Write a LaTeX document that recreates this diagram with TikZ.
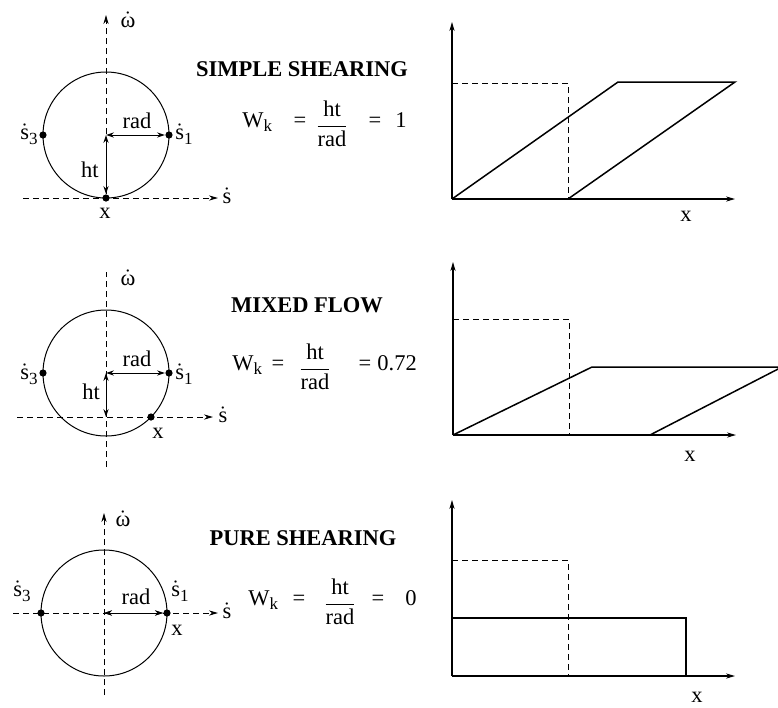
\documentclass[tikz,border=0pt]{standalone}
\usepackage{fontspec}
\setmainfont{Liberation Serif}
\usetikzlibrary{arrows.meta}
\newcommand\lowsub[1]{\raisebox{-0.45ex}{\fontsize{8.5}{9}\selectfont #1}}
\newcommand\rate[1]{$\dot{\mbox{#1}}$}
\begin{document}
\begin{tikzpicture}[x=0.5pt,y=-0.5pt,
  every node/.style={font=\fontsize{11.25}{13}\selectfont,inner sep=0pt},
  ttl/.style={font=\fontsize{11.25}{13}\selectfont\bfseries,anchor=base},
  axis/.style={dash pattern=on 3pt off 2pt,line width=0.45pt},
  tip/.style={-{Stealth[length=4.5pt,width=2.6pt]}},
  both/.style={{Stealth[length=4pt,width=2.6pt]}-{Stealth[length=4pt,width=2.6pt]},line width=0.5pt},
  pt/.style={circle,fill,minimum size=3.6pt},
  mohr/.style={line width=0.5pt},
  plot/.style={line width=0.75pt}]
\useasboundingbox (0,0) rectangle (778,708);

% Mohr circles
\foreach \n/\cx/\cy in {1/106/135, 2/106/373, 3/104/613} {
  \coordinate (c\n) at (\cx,\cy);
  \draw[mohr] (c\n) circle[radius=63];
  \node[pt] (sa\n) at (\cx-63,\cy) {};
  \node[pt] (sb\n) at (\cx+63,\cy) {};
}
\draw[both] (c1) -- (sb1);
\draw[both] (c2) -- (sb2);
\draw[both] (c3) -- (sb3);
\node (rad1) at (137,121) {rad};
\node (rad2) at (137,359) {rad};
\node (rad3) at (136,597) {rad};

% simple shearing: circle
\node[pt] (xa1) at (106,198) {};
\coordinate (wt1) at (106,15);
\coordinate (sl1) at (23,198);
\coordinate (sr1) at (218,198);
\draw[axis,tip] (xa1) -- (wt1);
\draw[axis,tip] (sl1) -- (sr1);
\draw[both] (c1) -- (xa1);
\node (ht1) at (90,170) {ht};
\node (w1) at (128,20) {\rate{ω}};
\node (s1) at (227,196) {\rate{s}};
\node (x1) at (105,213) {x};
\node (sl1a) at (184,134) {\rate{s}\lowsub{1}};
\node (sl3a) at (29,134) {\rate{s}\lowsub{3}};

% mixed flow: circle
\node[pt] (xa2) at (151,417) {};
\coordinate (xb2) at (106,417);
\coordinate (wb2) at (106,467);
\coordinate (wt2) at (106,272);
\coordinate (sl2) at (17,417);
\coordinate (sr2) at (213,417);
\draw[axis] (wb2) -- (wt2);
\draw[axis,tip] (sl2) -- (sr2);
\draw[both] (c2) -- (xb2);
\node (ht2) at (91,392) {ht};
\node (w2) at (128,278) {\rate{ω}};
\node (s2) at (223,415) {\rate{s}};
\node (x2) at (158,433) {x};
\node (sl1b) at (184,374) {\rate{s}\lowsub{1}};
\node (sl3b) at (29,374) {\rate{s}\lowsub{3}};

% pure shearing: circle
\coordinate (wb3) at (104,695);
\coordinate (wt3) at (104,513);
\coordinate (sl3) at (13,613);
\coordinate (sr3) at (218,613);
\draw[axis,tip] (wb3) -- (wt3);
\draw[axis,tip] (sl3) -- (sr3);
\draw[both] (c3) -- (sb3);
\node (w3) at (123,519) {\rate{ω}};
\node (s3) at (227,611) {\rate{s}};
\node (x3) at (177,630) {x};
\node (sl1c) at (180,591) {\rate{s}\lowsub{1}};
\node (sl3c) at (22,591) {\rate{s}\lowsub{3}};

% titles and kinematic vorticity numbers
\foreach \n/\tx/\tb/\title/\wx/\by/\ex/\fx/\gx/\vx/\val in {
    1/302/76/SIMPLE SHEARING/242/127/300/332/375/395/1,
    2/307/312/MIXED FLOW/232/370/278/315/365/377/0.72,
    3/303/545/PURE SHEARING/248/605/299/340/378/405/0} {
  \node[ttl] (ttl\n) at (\tx,\tb) {\title};
  \node[anchor=base west] (wk\n) at (\wx,\by) {W\lowsub{k}};
  \node[anchor=base] (eqa\n) at (\ex,\by) {=};
  \node (frac\n) at (\fx,\by-3) {$\displaystyle\frac{\mbox{ht}}{\mbox{rad}}$};
  \node[anchor=base] (eqb\n) at (\gx,\by) {=};
  \node[anchor=base west] (val\n) at (\vx,\by) {\val};
}

% strain profiles
\foreach \n/\ox/\oy/\ty/\lx/\ly in {1/452/199/22/686/216, 2/453/435/262/690/456, 3/452/676/500/697/697} {
  \coordinate (o\n) at (\ox,\oy);
  \coordinate (yt\n) at (\ox,\ty);
  \coordinate (xe\n) at (\ox+283,\oy);
  \coordinate (da\n) at (\ox,\oy-116);
  \coordinate (db\n) at (\ox+116,\oy-116);
  \coordinate (dc\n) at (\ox+116,\oy);
  \draw[tip,line width=0.55pt] (o\n) -- (yt\n);
  \draw[tip,line width=0.55pt] (o\n) -- (xe\n);
  \draw[axis] (da\n) -- (db\n) -- (dc\n);
  \node (xl\n) at (\lx,\ly) {x};
}
\coordinate (pa1) at (618,82);
\coordinate (pb1) at (735,82);
\draw[plot] (o1) -- (pa1) -- (pb1) -- (dc1);
\coordinate (pa2) at (592,367);
\coordinate (pb2) at (782,367);
\coordinate (pc2) at (650,435);
\draw[plot] (o2) -- (pa2) -- (pb2) -- (pc2);
\coordinate (pa3) at (452,618);
\coordinate (pb3) at (686,618);
\coordinate (pc3) at (686,676);
\draw[plot] (pa3) -- (pb3) -- (pc3);
\end{tikzpicture}
\end{document}
